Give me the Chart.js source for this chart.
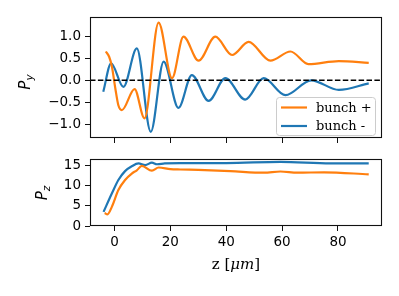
<!DOCTYPE html>
<html><head><meta charset="utf-8">
<script src="https://cdn.jsdelivr.net/npm/chart.js@4"></script>
<style>
html,body{margin:0;padding:0;background:#fff;}
#wrap{position:relative;width:399px;height:296px;background:#fff;}
canvas{position:absolute;left:0;top:0;}
</style></head><body>
<div id="wrap"><canvas id="c1" width="399" height="296"></canvas><canvas id="c2" width="399" height="296"></canvas></div>
<script>
// ---- data ----
const seriesLabels = ['bunch +', 'bunch -'];
// top panel: P_y
const zPlusTop = [-3.1, -1.9, -0.9, 0.3, 1.4, 2.65, 7.2, 10.75, 15.8, 20.6, 24.7, 30.1, 36.1, 42.1, 48.0, 55.8, 63.0, 69.4, 80.3, 91];
const pyPlus   = [0.66, 0.54, 0.31, -0.18, -0.57, -0.68, -0.2, -0.87, 1.32, 0.05, 1.0, 0.45, 1.0, 0.58, 0.88, 0.45, 0.66, 0.37, 0.44, 0.40];
const zMinusTop = [-4, -1.2, 3.2, 8.0, 13.0, 17.6, 22.9, 27.7, 33.7, 39.7, 46.8, 53.4, 61.2, 70.4, 80.3, 91];
const pyMinus   = [-0.26, 0.39, -0.15, 0.73, -1.18, 0.43, -0.63, 0.12, -0.47, 0.05, -0.44, 0.05, -0.34, 0.0, -0.22, -0.07];
// bottom panel: P_z
const zPlusBot = [-3.5, -2.5, -0.9, 1.4, 3.8, 6.2, 8.0, 9.8, 13.4, 15.8, 20, 23.6, 30, 41.5, 53.5, 59.4, 65.5, 75, 91];
const pzPlus   = [3.2, 2.9, 4.8, 8.9, 11.4, 13.0, 13.8, 14.9, 13.7, 14.5, 14.1, 14.0, 13.9, 13.6, 13.2, 13.5, 13.2, 13.3, 12.8];
const zMinusBot = [-3.9, -0.9, 1.4, 3.8, 6.2, 8.6, 11.0, 13.4, 15.2, 18, 23.6, 40, 59.4, 77.3, 91];
const pzMinus   = [3.5, 8.1, 11.4, 13.6, 14.8, 15.5, 15.1, 15.7, 15.3, 15.5, 15.6, 15.6, 15.9, 15.5, 15.5];
// ticks
const xTicks = [0, 20, 40, 60, 80];
const pyTicks = [-1.0, -0.5, 0.0, 0.5, 1.0];
const pzTicks = [0, 5, 10, 15];
const xRange = [-8.75, 95.75];
const pyRange = [-1.32, 1.45];
const pzRange = [0, 16.6];

const ORANGE = '#ff7f0e', BLUE = '#1f77b4';
const SANS = '"DejaVu Sans", sans-serif';
const SERIF = '"DejaVu Serif", serif';
const TFS = 13.5;

function pts(xs, ys){ return xs.map((x,i)=>({x:x, y:ys[i]})); }
function ds(label, data, color){
  return {label, data, borderColor: color, backgroundColor: color, borderWidth: 2.2,
    pointRadius: 0, cubicInterpolationMode: 'monotone', fill: false};
}
function setTicks(arr){ return function(scale){ scale.ticks = arr.map(v=>({value:v})); }; }
const gridOpts = {drawOnChartArea:false, drawTicks:true, tickLength:5, color:'#111', lineWidth:1};
const tickFont = {family: SANS, size: TFS};
function fixW(w){ return function(s){ s.width = w; }; }
function fixH(h){ return function(s){ s.height = h; }; }

function drawBox(chart){
  const a = chart.chartArea, ctx = chart.ctx;
  ctx.save(); ctx.strokeStyle = '#111'; ctx.lineWidth = 1.1;
  ctx.strokeRect(Math.round(a.left)+0.5, Math.round(a.top)+0.5, Math.round(a.right-a.left)-1, Math.round(a.bottom-a.top)-1);
  ctx.restore();
}
function drawYTitle(ctx, cx, cy, sub){
  ctx.save();
  ctx.translate(cx, cy); ctx.rotate(-Math.PI/2);
  ctx.fillStyle = '#000'; ctx.textBaseline = 'alphabetic';
  ctx.font = 'oblique 15px ' + SANS;
  const w1 = ctx.measureText('P').width;
  ctx.font = 'oblique 10.5px ' + SANS;
  const w2 = ctx.measureText(sub).width;
  const x0 = -(w1 + w2)/2;
  ctx.font = 'oblique 15px ' + SANS;
  ctx.fillText('P', x0, 5);
  ctx.font = 'oblique 10.5px ' + SANS;
  ctx.fillText(sub, x0 + w1, 8);
  ctx.restore();
}

const topPlugin = {
  id: 'topDeco',
  afterDatasetsDraw(chart){
    const ctx = chart.ctx, a = chart.chartArea, y = chart.scales.y.getPixelForValue(0);
    ctx.save(); ctx.strokeStyle = '#000'; ctx.lineWidth = 1.5; ctx.setLineDash([5.5, 2.4]);
    ctx.beginPath(); ctx.moveTo(a.left, y); ctx.lineTo(a.right, y); ctx.stroke(); ctx.restore();
  },
  afterDraw(chart){
    const ctx = chart.ctx;
    drawBox(chart);
    drawYTitle(ctx, 25, 82, 'y');
    // legend
    ctx.save();
    const bx = 276.5, by = 97.5, bw = 99, bh = 38, r = 3;
    ctx.beginPath(); ctx.roundRect(bx, by, bw, bh, r);
    ctx.fillStyle = 'rgba(255,255,255,0.8)'; ctx.fill();
    ctx.strokeStyle = '#cccccc'; ctx.lineWidth = 1; ctx.stroke();
    const rows = [107.5, 126];
    chart.data.datasets.forEach((d, i)=>{
      ctx.strokeStyle = d.borderColor; ctx.lineWidth = 2.2;
      ctx.beginPath(); ctx.moveTo(281, rows[i]); ctx.lineTo(307, rows[i]); ctx.stroke();
      ctx.fillStyle = '#000'; ctx.font = '13px ' + SERIF; ctx.textBaseline = 'middle';
      ctx.fillText(d.label, 316, rows[i] + 1);
    });
    ctx.restore();
  }
};
const botPlugin = {
  id: 'botDeco',
  afterDraw(chart){
    const ctx = chart.ctx;
    drawBox(chart);
    drawYTitle(ctx, 42, 193, 'z');
    ctx.save(); ctx.fillStyle = '#000'; ctx.textBaseline = 'middle';
    const p1 = 'z [', p2 = '\u03bcm', p3 = ']';
    const f = 15;
    ctx.font = f + 'px ' + SERIF; const w1 = ctx.measureText(p1).width, w3 = ctx.measureText(p3).width;
    ctx.font = 'italic ' + f + 'px ' + SERIF; const w2 = ctx.measureText(p2).width;
    let x = (chart.chartArea.left + chart.chartArea.right)/2 - (w1+w2+w3)/2;
    const y = 265;
    ctx.font = f + 'px ' + SERIF; ctx.fillText(p1, x, y); x += w1;
    ctx.font = 'italic ' + f + 'px ' + SERIF; ctx.fillText(p2, x, y); x += w2;
    ctx.font = f + 'px ' + SERIF; ctx.fillText(p3, x, y);
    ctx.restore();
  }
};

Chart.defaults.font.family = SANS;
Chart.defaults.color = '#000';

new Chart(document.getElementById('c1'), {
  type: 'line',
  data: { datasets: [ ds(seriesLabels[0], pts(zPlusTop, pyPlus), ORANGE), ds(seriesLabels[1], pts(zMinusTop, pyMinus), BLUE) ] },
  options: {
    responsive: false, animation: false, devicePixelRatio: 1,
    layout: { padding: { left: 0, top: 17, right: 17, bottom: 148 } },
    plugins: { legend: {display:false}, tooltip: {enabled:false} },
    scales: {
      x: { type:'linear', min:xRange[0], max:xRange[1], afterBuildTicks:setTicks(xTicks), afterFit: fixH(10),
           grid: gridOpts, border:{display:false}, ticks:{display:false} },
      y: { type:'linear', min:pyRange[0], max:pyRange[1], afterBuildTicks:setTicks(pyTicks), afterFit: fixW(90),
           grid: gridOpts, border:{display:false},
           ticks:{font:tickFont, padding:4, callback:(v)=> (v<0?'\u2212':'') + Math.abs(v).toFixed(1)} }
    }
  },
  plugins: [topPlugin]
});

new Chart(document.getElementById('c2'), {
  type: 'line',
  data: { datasets: [ ds(seriesLabels[0], pts(zPlusBot, pzPlus), ORANGE), ds(seriesLabels[1], pts(zMinusBot, pzMinus), BLUE) ] },
  options: {
    responsive: false, animation: false, devicePixelRatio: 1,
    layout: { padding: { left: 0, top: 159, right: 17, bottom: 20 } },
    plugins: { legend: {display:false}, tooltip: {enabled:false} },
    scales: {
      x: { type:'linear', min:xRange[0], max:xRange[1], afterBuildTicks:setTicks(xTicks), afterFit: fixH(50),
           grid: gridOpts, border:{display:false},
           ticks:{font:tickFont, padding:3, maxRotation:0, callback:(v)=>String(v)} },
      y: { type:'linear', min:pzRange[0], max:pzRange[1], afterBuildTicks:setTicks(pzTicks), afterFit: fixW(90),
           grid: gridOpts, border:{display:false},
           ticks:{font:tickFont, padding:4, callback:(v)=>String(v)} }
    }
  },
  plugins: [botPlugin]
});
</script>
</body></html>
